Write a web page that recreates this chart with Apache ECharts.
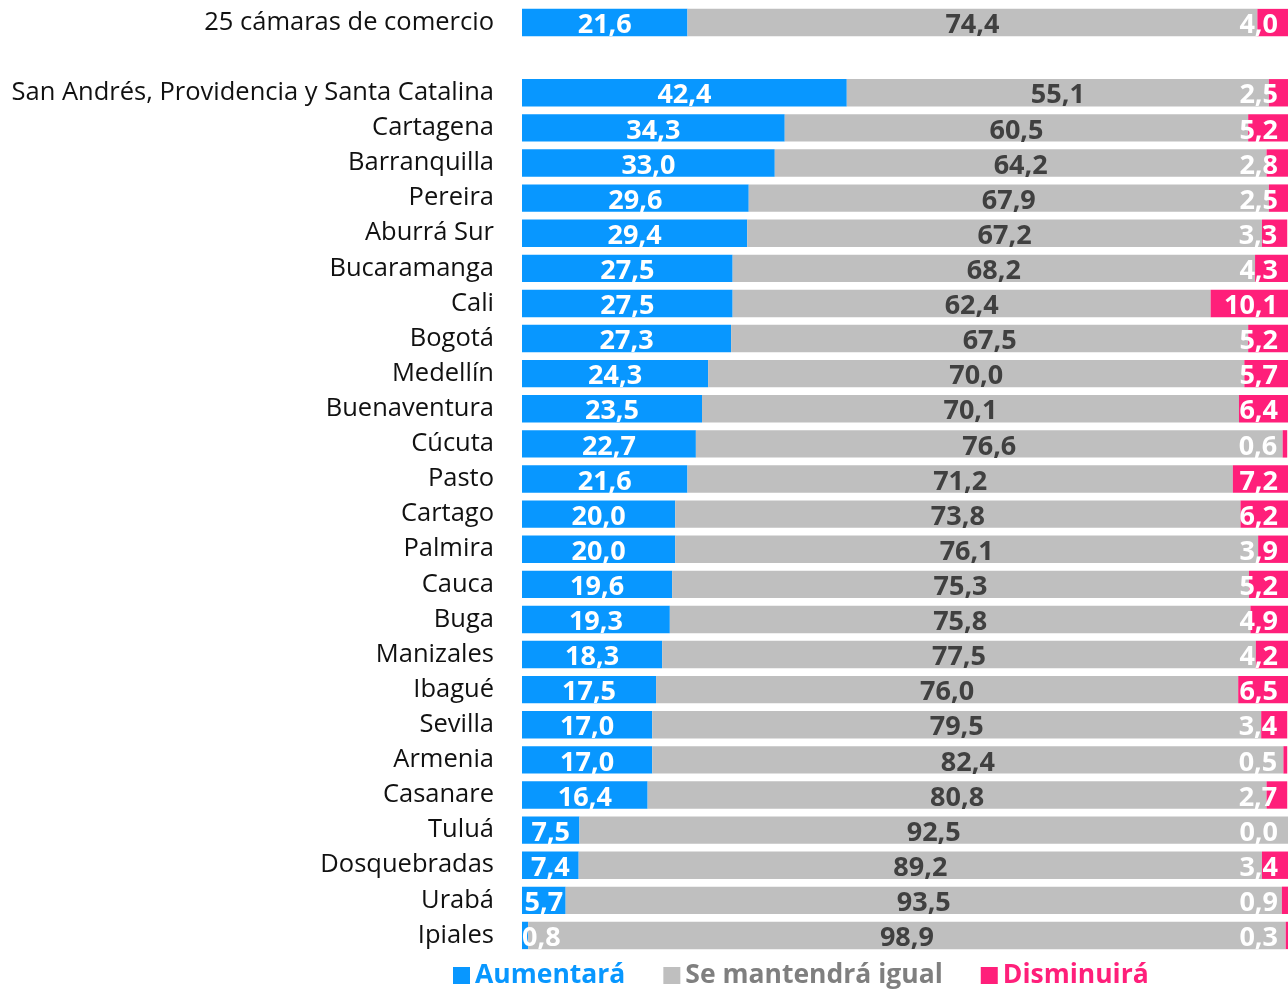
<!DOCTYPE html>
<html>
<head>
<meta charset="utf-8">
<script src="https://cdn.jsdelivr.net/npm/echarts@6/dist/echarts.min.js"></script>
<style>
  html, body { margin: 0; padding: 0; background: #fff; }
  #chart { width: 1288px; height: 990px; }
</style>
</head>
<body>
<div id="chart"></div>
<script>
// categorias (arriba a abajo), '' = separador
const categorias = ['25 cámaras de comercio', '', 'San Andrés, Providencia y Santa Catalina', 'Cartagena', 'Barranquilla',
  'Pereira', 'Aburrá Sur', 'Bucaramanga', 'Cali', 'Bogotá', 'Medellín', 'Buenaventura', 'Cúcuta', 'Pasto',
  'Cartago', 'Palmira', 'Cauca', 'Buga', 'Manizales', 'Ibagué', 'Sevilla', 'Armenia', 'Casanare', 'Tuluá',
  'Dosquebradas', 'Urabá', 'Ipiales'];
const aumentara = [21.6, null, 42.4, 34.3, 33.0, 29.6, 29.4, 27.5, 27.5, 27.3, 24.3, 23.5, 22.7, 21.6,
  20.0, 20.0, 19.6, 19.3, 18.3, 17.5, 17.0, 17.0, 16.4, 7.5, 7.4, 5.7, 0.8];
const igual = [74.4, null, 55.1, 60.5, 64.2, 67.9, 67.2, 68.2, 62.4, 67.5, 70.0, 70.1, 76.6, 71.2,
  73.8, 76.1, 75.3, 75.8, 77.5, 76.0, 79.5, 82.4, 80.8, 92.5, 89.2, 93.5, 98.9];
const disminuira = [4.0, null, 2.5, 5.2, 2.8, 2.5, 3.3, 4.3, 10.1, 5.2, 5.7, 6.4, 0.6, 7.2,
  6.2, 3.9, 5.2, 4.9, 4.2, 6.5, 3.4, 0.5, 2.7, 0.0, 3.4, 0.9, 0.3];

const fuente = '"Open Sans", sans-serif';
const azul = '#0897FF', gris = '#BFBFBF', rosa = '#FF1F7A';
const fmt = p => p.value == null ? '' : p.value.toFixed(1).replace('.', ',');

const myChart = echarts.init(document.getElementById('chart'));
const options = {
  animation: false,
  textStyle: { fontFamily: fuente },
  grid: { left: 522, right: 0, top: 5, bottom: 37 },
  xAxis: { type: 'value', min: 0, max: 100, show: false },
  yAxis: {
    type: 'category', inverse: true, data: categorias,
    axisLine: { show: false }, axisTick: { show: false },
    axisLabel: { fontSize: 25.5, color: '#111', margin: 28, fontFamily: fuente, padding: [3, 0, 0, 0] }
  },
  legend: {
    bottom: -4, left: 448, itemWidth: 17, itemHeight: 17, itemGap: 38,
    icon: 'rect',
    data: [
      { name: 'Aumentará', textStyle: { color: azul } },
      { name: 'Se mantendrá igual', textStyle: { color: '#7F7F7F' } },
      { name: 'Disminuirá', textStyle: { color: rosa } }
    ],
    textStyle: { fontSize: 26.5, fontWeight: 'bold', fontFamily: fuente }
  },
  series: [
    {
      name: 'Aumentará', type: 'bar', stack: 'total', barCategoryGap: '22%',
      itemStyle: { color: azul },
      label: { show: true, position: 'inside', offset: [0, 3], color: '#fff', fontSize: 27, fontWeight: 'bold', formatter: fmt, fontFamily: fuente },
      data: aumentara.map((v, i) => i === aumentara.length - 1
        ? { value: v, label: { position: 'insideLeft', distance: 0 } } : v)
    },
    {
      name: 'Se mantendrá igual', type: 'bar', stack: 'total',
      itemStyle: { color: gris },
      label: { show: true, position: 'inside', offset: [0, 3], color: '#404040', fontSize: 27, fontWeight: 'bold', formatter: fmt, fontFamily: fuente },
      data: igual
    },
    {
      name: 'Disminuirá', type: 'bar', stack: 'total',
      itemStyle: { color: rosa },
      label: { show: true, position: 'insideRight', distance: 10, offset: [0, 3], color: '#fff', fontSize: 27, fontWeight: 'bold', formatter: fmt, fontFamily: fuente },
      data: disminuira
    }
  ]
};
myChart.setOption(options);
window.onresize = function () { myChart.resize(); };
</script>
</body>
</html>
